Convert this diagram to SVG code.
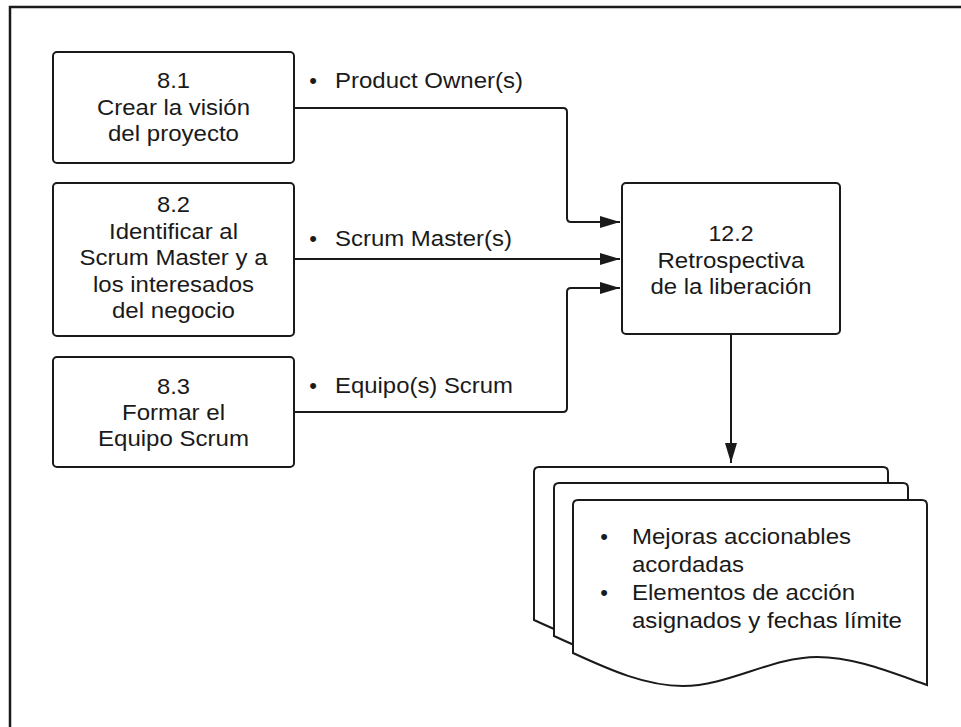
<svg xmlns="http://www.w3.org/2000/svg" width="961" height="727" viewBox="0 0 961 727">
  <style>
    .box { fill: #ffffff; stroke: #1a1a1a; stroke-width: 2; }
    .doc { fill: #ffffff; stroke: #1a1a1a; stroke-width: 2; stroke-linejoin: miter; }
    .t { font-family: "Liberation Sans", Arial, sans-serif; font-size: 22px; fill: #1a1a1a; }
    .c { text-anchor: middle; }
    .conn { fill: none; stroke: #1a1a1a; stroke-width: 2; }
    .frame { fill: none; stroke: #1a1a1a; stroke-width: 2.5; }
  </style>
  <defs>
    <marker id="arr" markerUnits="userSpaceOnUse" markerWidth="20" markerHeight="12" refX="20" refY="6" orient="auto">
      <path d="M0,0 L20,6 L0,12 Z" fill="#1a1a1a"/>
    </marker>
    <path id="docShape" d="M0,153 L0,5 Q0,0 5,0 L349,0 Q354,0 354,5 L354,185 C317,172 281,157 244,157 C199,157 155,186 110,186 C73,186 37,170 0,153 Z"/>
  </defs>
  <rect width="961" height="727" fill="#ffffff"/>
  <rect class="frame" x="10" y="7" width="1000" height="1000"/>

  <g id="connectors">
    <path class="conn" d="M294,108 L563,108 Q567,108 567,112 L567,218 Q567,222 571,222 L620,222" marker-end="url(#arr)"/>
    <path class="conn" d="M294,259 L620,259" marker-end="url(#arr)"/>
    <path class="conn" d="M294,412 L563,412 Q567,412 567,408 L567,292 Q567,288 571,288 L620,288" marker-end="url(#arr)"/>
    <path class="conn" d="M731,334 L731,463" marker-end="url(#arr)"/>
    <g id="label-po">
      <text class="t" x="313" y="88" text-anchor="middle">•</text>
      <text class="t" x="335" y="88" textLength="188" lengthAdjust="spacingAndGlyphs">Product Owner(s)</text>
    </g>
    <g id="label-sm">
      <text class="t" x="313" y="246" text-anchor="middle">•</text>
      <text class="t" x="335" y="246" textLength="177" lengthAdjust="spacingAndGlyphs">Scrum Master(s)</text>
    </g>
    <g id="label-es">
      <text class="t" x="313" y="393" text-anchor="middle">•</text>
      <text class="t" x="335" y="393" textLength="178" lengthAdjust="spacingAndGlyphs">Equipo(s) Scrum</text>
    </g>
  </g>

  <g id="node-8-1">
    <rect class="box" x="53" y="52" width="241" height="111" rx="4"/>
    <text class="t c" x="173.5" y="88" textLength="33" lengthAdjust="spacingAndGlyphs">8.1</text>
    <text class="t c" x="173.5" y="114.5" textLength="153" lengthAdjust="spacingAndGlyphs">Crear la visión</text>
    <text class="t c" x="173.5" y="141" textLength="131" lengthAdjust="spacingAndGlyphs">del proyecto</text>
  </g>

  <g id="node-8-2">
    <rect class="box" x="53" y="183" width="241" height="153" rx="4"/>
    <text class="t c" x="173.5" y="212" textLength="33" lengthAdjust="spacingAndGlyphs">8.2</text>
    <text class="t c" x="173.5" y="238.5" textLength="129" lengthAdjust="spacingAndGlyphs">Identificar al</text>
    <text class="t c" x="173.5" y="265" textLength="188" lengthAdjust="spacingAndGlyphs">Scrum Master y a</text>
    <text class="t c" x="173.5" y="291.5" textLength="161" lengthAdjust="spacingAndGlyphs">los interesados</text>
    <text class="t c" x="173.5" y="318" textLength="123" lengthAdjust="spacingAndGlyphs">del negocio</text>
  </g>

  <g id="node-8-3">
    <rect class="box" x="53" y="357" width="241" height="110" rx="4"/>
    <text class="t c" x="173.5" y="394" textLength="33" lengthAdjust="spacingAndGlyphs">8.3</text>
    <text class="t c" x="173.5" y="420" textLength="103" lengthAdjust="spacingAndGlyphs">Formar el</text>
    <text class="t c" x="173.5" y="446" textLength="151" lengthAdjust="spacingAndGlyphs">Equipo Scrum</text>
  </g>

  <g id="node-12-2">
    <rect class="box" x="622" y="183" width="218" height="151" rx="4"/>
    <text class="t c" x="731" y="241" textLength="45" lengthAdjust="spacingAndGlyphs">12.2</text>
    <text class="t c" x="731" y="267.5" textLength="147" lengthAdjust="spacingAndGlyphs">Retrospectiva</text>
    <text class="t c" x="731" y="293.5" textLength="161" lengthAdjust="spacingAndGlyphs">de la liberación</text>
  </g>

  <g id="output-docs">
    <use href="#docShape" class="doc" transform="translate(534,467)"/>
    <use href="#docShape" class="doc" transform="translate(554,483)"/>
    <use href="#docShape" class="doc" transform="translate(573,500)"/>
    <text class="t" x="604" y="544" text-anchor="middle">•</text>
    <text class="t" x="632" y="544" textLength="219" lengthAdjust="spacingAndGlyphs">Mejoras accionables</text>
    <text class="t" x="632" y="572" textLength="112" lengthAdjust="spacingAndGlyphs">acordadas</text>
    <text class="t" x="604" y="600" text-anchor="middle">•</text>
    <text class="t" x="632" y="600" textLength="223" lengthAdjust="spacingAndGlyphs">Elementos de acción</text>
    <text class="t" x="632" y="628" textLength="270" lengthAdjust="spacingAndGlyphs">asignados y fechas límite</text>
  </g>
</svg>
